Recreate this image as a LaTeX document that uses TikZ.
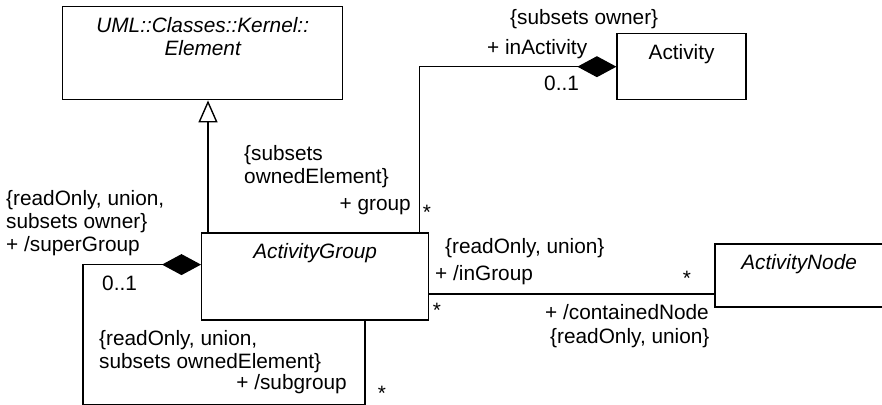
\documentclass[tikz,border=0pt]{standalone}
\usepackage{fontspec}
\setmainfont{Liberation Sans}
\usetikzlibrary{arrows.meta,positioning}
\newcommand{\umlfont}{\fontsize{20.8}{23}\selectfont}
\tikzset{
  cls/.style={rectangle, draw=black, line width=1.4pt, fill=white, inner sep=0pt},
  cname/.style={anchor=north, yshift=-11pt, inner sep=0pt, align=center},
  lbl/.style={inner sep=0pt, align=left},
  mult/.style={inner sep=0pt, anchor=north},
  assoc/.style={line width=1.4pt, draw=black},
  comp/.style={assoc, {Diamond[length=39pt,width=21pt]}-},
  gen/.style={assoc, -{Triangle[open,length=22pt,width=19pt]}},
}

\begin{document}
\begin{tikzpicture}[x=1pt, y=1pt, font=\umlfont]
  \fill[white] (0,0) rectangle (882,-404);
  \useasboundingbox (0,0) rectangle (882,-404);

  % classes
  \node[cls, minimum width=280pt, minimum height=93pt, anchor=north west,
    label={[cname, font=\umlfont\itshape]north:UML::Classes::Kernel::\\Element}] (elem) at (62,-6) {};
  \node[cls, minimum width=227pt, minimum height=87pt,
    below right=132pt and 139pt of elem.south west,
    label={[cname, font=\umlfont\itshape]north:ActivityGroup}] (grp) {};
  \node[cls, minimum width=129pt, minimum height=66pt,
    below right=27pt and 273pt of elem.north east,
    label={[cname]north:Activity}] (act) {};
  \node[cls, minimum width=168pt, minimum height=63pt,
    below right=11pt and 285pt of grp.north east,
    label={[cname, font=\umlfont\itshape]north:ActivityNode}] (anode) {};

  % connectors
  \draw[gen] ([xshift=7pt]grp.north west) -- ([xshift=7pt]grp.north west |- elem.south);
  \draw[comp] (act.west) -| ([xshift=-10pt]grp.north east);
  \draw[comp] ([yshift=12pt]grp.west) -| ++(-118pt,-140pt) -| ([xshift=164pt]grp.south west);
  \draw[assoc] ([yshift=-17.5pt]grp.east) -- ([yshift=-17.5pt]grp.east -| anode.west);

  % association ends
  \node[lbl, anchor=north west] (supc) at (6,-190) {\{readOnly, union,\\subsets owner\}\\+ /superGroup};
  \node[lbl, anchor=base west] (supm) at (102,-290) {0..1};
  \node[lbl, anchor=north west] (grpc) at (244,-145) {\{subsets\\ownedElement\}};
  \node[lbl, anchor=base east] (grpr) at (411,-210) {+ group};
  \node[mult] (grpm) at (427,-205) {*};
  \node[lbl, anchor=base west] (actc) at (510,-25) {\{subsets owner\}};
  \node[lbl, anchor=base west] (actr) at (487,-54) {+ inActivity};
  \node[lbl, anchor=base west] (actm) at (544,-90) {0..1};
  \node[lbl, anchor=base west] (ingc) at (445,-253) {\{readOnly, union\}};
  \node[lbl, anchor=base west] (ingr) at (435,-280) {+ /inGroup};
  \node[mult] (ingm) at (687,-271) {*};
  \node[mult] (cntm) at (437,-303) {*};
  \node[lbl, anchor=base west] (cntr) at (545,-319) {+ /containedNode};
  \node[lbl, anchor=base west] (cntc) at (550,-343) {\{readOnly, union\}};
  \node[lbl, anchor=north west] (subc) at (99,-330) {\{readOnly, union,\\subsets ownedElement\}};
  \node[lbl, anchor=base east] (subr) at (347,-389) {+ /subgroup};
  \node[mult] (subm) at (382,-386) {*};
\end{tikzpicture}
\end{document}
